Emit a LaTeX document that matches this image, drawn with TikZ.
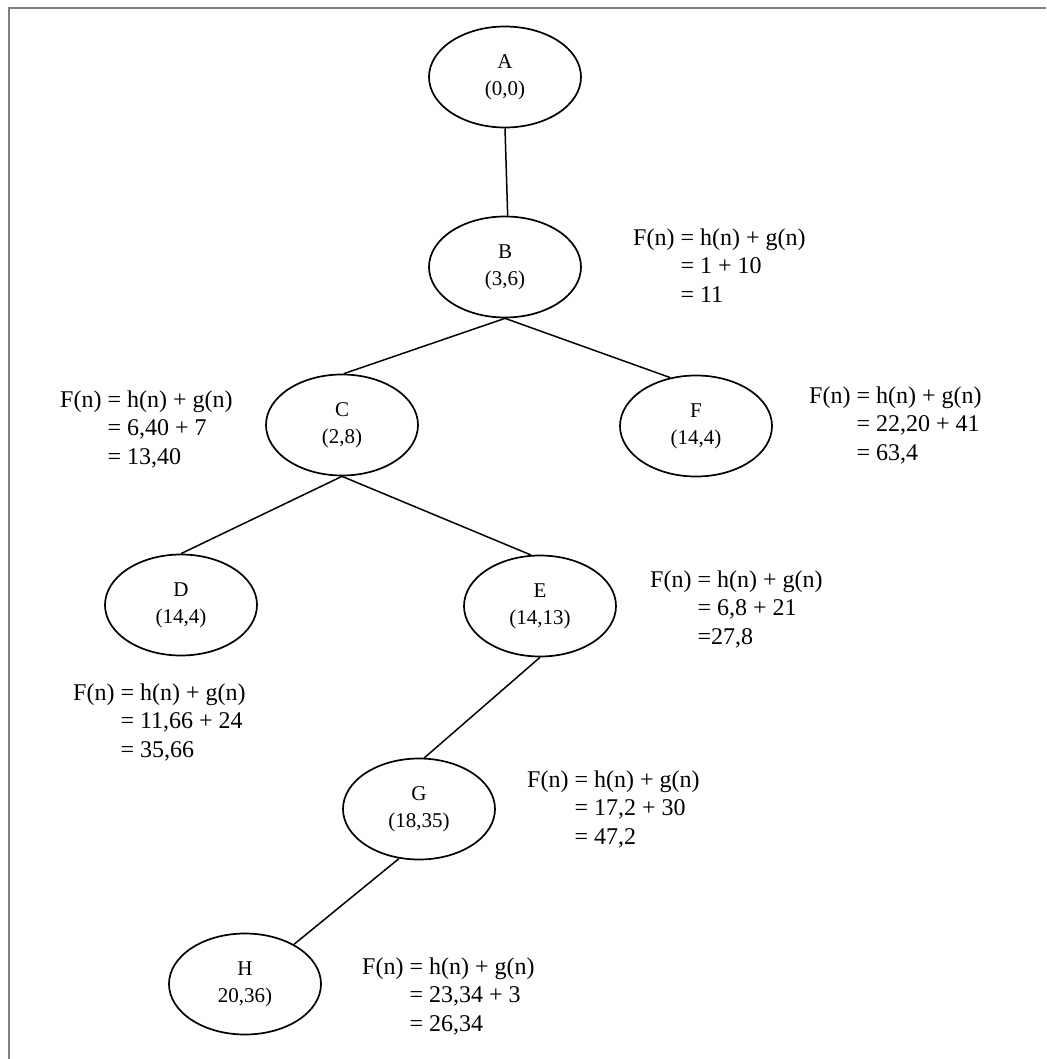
\documentclass[tikz,border=0pt]{standalone}
\usepackage{fontspec}
\setmainfont{Liberation Serif}
\usetikzlibrary{shapes.geometric}
\definecolor{myframegray}{RGB}{128,128,128}
\newcommand{\widthstate}{152pt}
\newcommand{\heightstate}{101pt}
\newcommand{\fcost}[2]{F(n) = h(n) + g(n)\\\phantom{F(n) }#1\\\phantom{F(n) }#2}
\tikzset{
    state/.style={draw, ellipse, line width=1.7pt, minimum width=\widthstate, minimum height=\heightstate,
        inner sep=0pt, align=center, font=\fontsize{21}{27}\selectfont},
    cost/.style={anchor=west, inner sep=0pt, align=left, font=\fontsize{24}{28.5}\selectfont},
    link/.style={line width=1.5pt}
}
\begin{document}
\begin{tikzpicture}[x=1pt, y=-1pt]
    \useasboundingbox (0,0) rectangle (1046,1059);
    \draw[myframegray, line width=2pt] (8.5,1059) -- (8.5,8.5) -- (1046,8.5);

    \node[state] (A) at (505,77) {A\\(0,0)};
    \node[state] (B) at (505,267) {B\\(3,6)};
    \node[state] (C) at (342,425) {C\\(2,8)};
    \node[state] (F) at (696,426) {F\\(14,4)};
    \node[state] (D) at (181,605) {D\\(14,4)};
    \node[state] (E) at (540,606) {E\\(14,13)};
    \node[state] (G) at (419,809) {G\\(18,35)};
    \node[state] (H) at (245,984) {H\\20,36)};

    \draw[link] (A.south) -- (B.87);
    \draw[link] (B.south) -- (C.88);
    \draw[link] (B.south) -- (F.118);
    \draw[link] (C.south) -- (D.north);
    \draw[link] (C.south) -- (E.100);
    \draw[link] (E.south) -- (G.84);
    \draw[link] (G.248) -- (H.39);

    \node[cost] (costB) at (633,268) {\fcost{= 1 + 10}{= 11}};
    \node[cost] (costC) at (60,430) {\fcost{= 6,40 + 7}{= 13,40}};
    \node[cost] (costF) at (809,426) {\fcost{= 22,20 + 41}{= 63,4}};
    \node[cost] (costE) at (650,610) {\fcost{= 6,8 + 21}{=27,8}};
    \node[cost] (costD) at (73,723) {\fcost{= 11,66 + 24}{= 35,66}};
    \node[cost] (costG) at (527,810) {\fcost{= 17,2 + 30}{= 47,2}};
    \node[cost] (costH) at (362,997) {\fcost{= 23,34 + 3}{= 26,34}};
\end{tikzpicture}
\end{document}
